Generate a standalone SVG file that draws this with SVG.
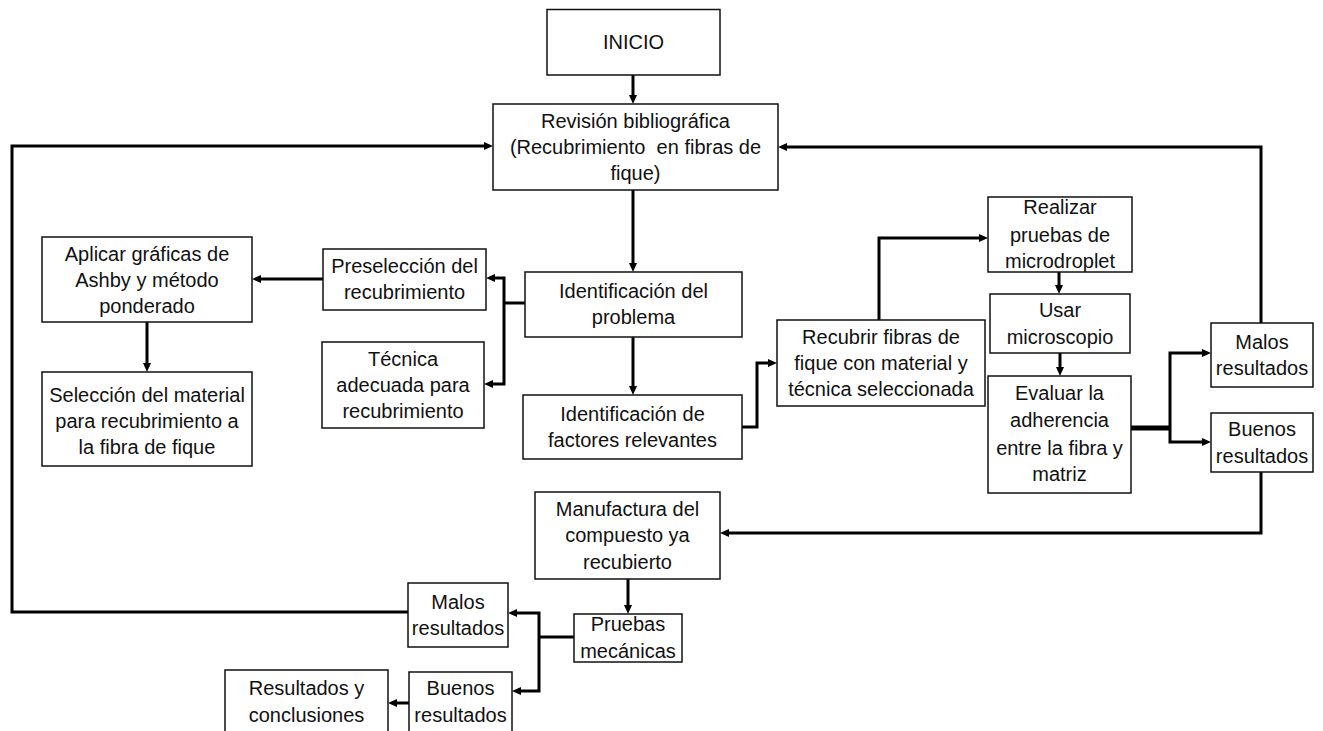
<svg xmlns="http://www.w3.org/2000/svg" width="1323" height="731" viewBox="0 0 1323 731">
  <style>
    .box { fill: #ffffff; stroke: #111111; stroke-width: 1.5; }
    .lbl { font-family: "Liberation Sans", Arial, sans-serif; font-size: 20px; fill: #111111; text-anchor: middle; }
    .wire { fill: none; stroke: #000000; stroke-width: 3; stroke-linejoin: miter; }
    .wire.heavy { stroke-width: 5; }
    .arrow { marker-end: url(#head); }
  </style>
  <defs>
    <marker id="head" viewBox="0 0 9 9" refX="4.5" refY="4.5" markerWidth="9" markerHeight="9" markerUnits="userSpaceOnUse" orient="auto">
      <path d="M0,0.5 L9,4.5 L0,8.5 z" fill="#000000"/>
    </marker>
  </defs>

  <rect x="0" y="0" width="1323" height="731" fill="#ffffff"/>

  <!-- connectors -->
  <g id="connectors">
    <path class="wire arrow" d="M633,75 V99.5"/>
    <path class="wire arrow" d="M633,190 V267.5"/>
    <path class="wire arrow" d="M633,337 V390.5"/>
    <path class="wire" d="M525,303 H504"/>
    <path class="wire arrow" d="M504,303 V278 H490.5"/>
    <path class="wire arrow" d="M504,303 V384 H488.5"/>
    <path class="wire arrow" d="M323,279 H256.5"/>
    <path class="wire arrow" d="M147,322 V367.5"/>
    <path class="wire arrow" d="M742,427 H757 V363 H772.5"/>
    <path class="wire arrow" d="M879,320 V238 H983.5"/>
    <path class="wire arrow" d="M1059,272 V289.5"/>
    <path class="wire arrow" d="M1060,353 V371.5"/>
    <path class="wire heavy" d="M1131,428 H1171"/>
    <path class="wire arrow" d="M1170,428 V353 H1206.5"/>
    <path class="wire arrow" d="M1170,428 V442 H1206.5"/>
    <path class="wire arrow" d="M1261,323 V147 H782.5"/>
    <path class="wire arrow" d="M1261,472 V533 H724.5"/>
    <path class="wire arrow" d="M628,579 V609.5"/>
    <path class="wire" d="M574,637 H539"/>
    <path class="wire arrow" d="M539,637 V613 H512.5"/>
    <path class="wire arrow" d="M539,637 V691 H516.5"/>
    <path class="wire arrow" d="M408,612 H12 V146 H488.5"/>
    <path class="wire arrow" d="M409,703 H392.5"/>
  </g>

  <!-- nodes -->
  <g id="inicio">
    <rect class="box" x="547" y="9.5" width="173" height="65.5"/>
    <text class="lbl" x="633.5" y="49">INICIO</text>
  </g>

  <g id="revision">
    <rect class="box" x="493" y="104" width="285" height="86"/>
    <text class="lbl" x="635.5" y="128">Revisión bibliográfica</text>
    <text class="lbl" x="635.5" y="154" xml:space="preserve">(Recubrimiento  en fibras de</text>
    <text class="lbl" x="635.5" y="180">fique)</text>
  </g>

  <g id="aplicar">
    <rect class="box" x="42" y="237" width="210" height="85"/>
    <text class="lbl" x="147" y="260.5">Aplicar gráficas de</text>
    <text class="lbl" x="147" y="286.5">Ashby y método</text>
    <text class="lbl" x="147" y="312.5">ponderado</text>
  </g>

  <g id="seleccion">
    <rect class="box" x="42" y="372" width="210" height="94"/>
    <text class="lbl" x="147" y="402">Selección del material</text>
    <text class="lbl" x="147" y="428">para recubrimiento a</text>
    <text class="lbl" x="147" y="454">la fibra de fique</text>
  </g>

  <g id="preseleccion">
    <rect class="box" x="323" y="249" width="163" height="61"/>
    <text class="lbl" x="404.5" y="273">Preselección del</text>
    <text class="lbl" x="404.5" y="299">recubrimiento</text>
  </g>

  <g id="tecnica">
    <rect class="box" x="322" y="342" width="162" height="86"/>
    <text class="lbl" x="403" y="366">Técnica</text>
    <text class="lbl" x="403" y="392">adecuada para</text>
    <text class="lbl" x="403" y="418">recubrimiento</text>
  </g>

  <g id="problema">
    <rect class="box" x="525" y="272" width="217" height="65"/>
    <text class="lbl" x="633.5" y="298">Identificación del</text>
    <text class="lbl" x="633.5" y="324">problema</text>
  </g>

  <g id="factores">
    <rect class="box" x="523" y="395" width="219" height="64"/>
    <text class="lbl" x="632.5" y="420.5">Identificación de</text>
    <text class="lbl" x="632.5" y="446.5">factores relevantes</text>
  </g>

  <g id="recubrir">
    <rect class="box" x="777" y="320" width="208" height="86"/>
    <text class="lbl" x="881" y="344">Recubrir fibras de</text>
    <text class="lbl" x="881" y="370">fique con material y</text>
    <text class="lbl" x="881" y="396">técnica seleccionada</text>
  </g>

  <g id="microdroplet">
    <rect class="box" x="988" y="197" width="144" height="75"/>
    <text class="lbl" x="1060" y="214">Realizar</text>
    <text class="lbl" x="1060" y="241.5">pruebas de</text>
    <text class="lbl" x="1060" y="268">microdroplet</text>
  </g>

  <g id="microscopio">
    <rect class="box" x="990" y="294" width="140" height="59"/>
    <text class="lbl" x="1060" y="317">Usar</text>
    <text class="lbl" x="1060" y="343.5">microscopio</text>
  </g>

  <g id="evaluar">
    <rect class="box" x="988" y="376" width="143" height="117"/>
    <text class="lbl" x="1059.5" y="400">Evaluar la</text>
    <text class="lbl" x="1059.5" y="427">adherencia</text>
    <text class="lbl" x="1059.5" y="454.5">entre la fibra y</text>
    <text class="lbl" x="1059.5" y="481">matriz</text>
  </g>

  <g id="malos-adherencia">
    <rect class="box" x="1211" y="323" width="102" height="64"/>
    <text class="lbl" x="1262" y="349">Malos</text>
    <text class="lbl" x="1262" y="375">resultados</text>
  </g>

  <g id="buenos-adherencia">
    <rect class="box" x="1211" y="413" width="102" height="59"/>
    <text class="lbl" x="1262" y="436">Buenos</text>
    <text class="lbl" x="1262" y="462.5">resultados</text>
  </g>

  <g id="manufactura">
    <rect class="box" x="535" y="492" width="185" height="87"/>
    <text class="lbl" x="627.5" y="515.5">Manufactura del</text>
    <text class="lbl" x="627.5" y="542">compuesto ya</text>
    <text class="lbl" x="627.5" y="568.5">recubierto</text>
  </g>

  <g id="pruebas-mecanicas">
    <rect class="box" x="574" y="614" width="108" height="48"/>
    <text class="lbl" x="628" y="631">Pruebas</text>
    <text class="lbl" x="628" y="658">mecánicas</text>
  </g>

  <g id="malos-mecanicas">
    <rect class="box" x="408" y="583" width="100" height="64"/>
    <text class="lbl" x="458" y="608.5">Malos</text>
    <text class="lbl" x="458" y="635">resultados</text>
  </g>

  <g id="buenos-mecanicas">
    <rect class="box" x="409" y="672" width="103" height="70"/>
    <text class="lbl" x="460.5" y="695">Buenos</text>
    <text class="lbl" x="460.5" y="722">resultados</text>
  </g>

  <g id="conclusiones">
    <rect class="box" x="225" y="670" width="163" height="72"/>
    <text class="lbl" x="306.5" y="695">Resultados y</text>
    <text class="lbl" x="306.5" y="722">conclusiones</text>
  </g>
</svg>
